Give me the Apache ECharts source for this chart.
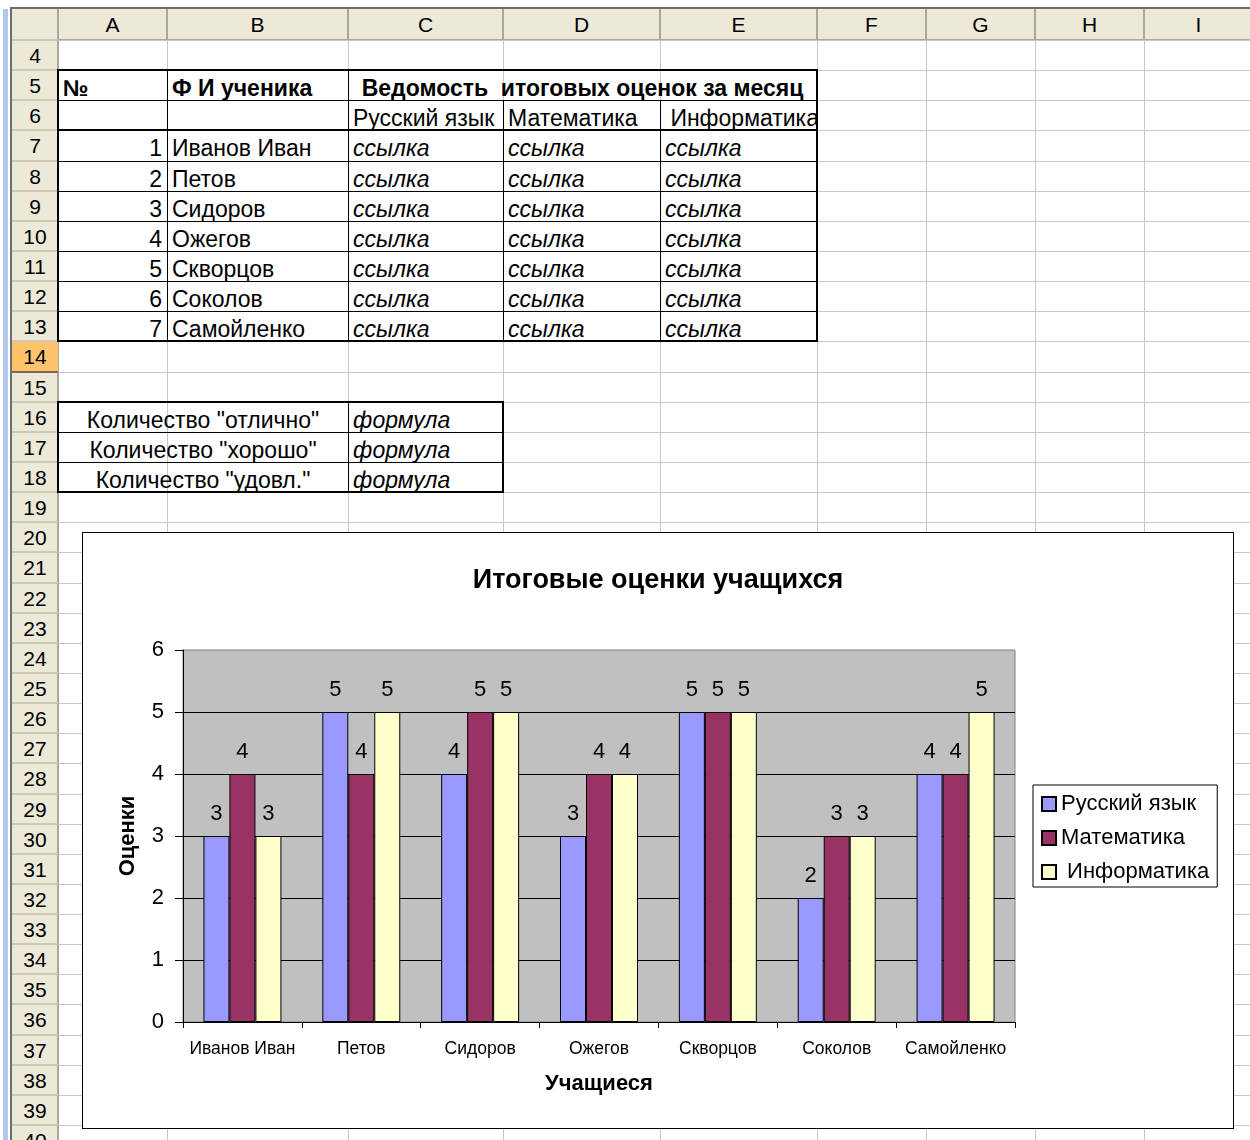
<!DOCTYPE html>
<html><head><meta charset="utf-8">
<script src="https://cdn.jsdelivr.net/npm/echarts@6/dist/echarts.min.js"></script>
<style>
html,body{margin:0;padding:0;background:#fff;}
#sheet{position:relative;width:1250px;height:1140px;overflow:hidden;font-family:'Liberation Sans',Arial,sans-serif;}
.a{position:absolute;}
.t{position:absolute;white-space:pre;font-size:23px;line-height:30px;color:#000;box-sizing:border-box;overflow:visible;}
.h{position:absolute;white-space:pre;font-size:21px;color:#000;text-align:center;box-sizing:border-box;}
#chart{position:absolute;left:82px;top:532px;width:1150px;height:595px;border:1px solid #000;background:#fff;}
</style></head><body><div id="sheet"><div id="chart"></div></div>
<script>
// ---- data ----
const categories = ['Иванов Иван','Петов','Сидоров','Ожегов','Скворцов','Соколов','Самойленко'];
const russian = [3,5,4,3,5,2,4];
const math = [4,4,5,4,5,3,4];
const informatics = [3,5,5,4,5,3,5];
const seriesNames = ['Русский язык','Математика',' Информатика'];
const yMin = 0, yMax = 6, yStep = 1;
const chartTitle = 'Итоговые оценки учащихся';
const xName = 'Учащиеся';
const yName = 'Оценки';
const colLetters = ['A','B','C','D','E','F','G','H','I'];
const tableTitle = 'Ведомость  итоговых оценок за месяц';
const headNo = '№';
const headName = 'Ф И ученика';
const linkText = 'ссылка';
const formulaText = 'формула';
const countLabels = ['Количество "отлично"','Количество "хорошо"','Количество "удовл."'];

// ---- spreadsheet ----
const sheet = document.getElementById('sheet');
const colX = [58,167,348,503,660,817,926,1035,1144,1253];
const rowY = n => Math.round(40 + (n-4)*30.14);
function box(x,y,w,h,bg){const d=document.createElement('div');d.className='a';d.style.cssText=`left:${x}px;top:${y}px;width:${w}px;height:${h}px;background:${bg};`;sheet.insertBefore(d, document.getElementById('chart'));return d;}
function text(cls,x,y,w,h,s,align,extra){const d=document.createElement('div');d.className=cls;d.textContent=s;d.style.cssText=`left:${x}px;top:${y}px;width:${w}px;height:${h}px;line-height:${h}px;text-align:${align};${extra||''}`;sheet.insertBefore(d, document.getElementById('chart'));return d;}
// gridlines
for(let i=0;i<colX.length;i++) box(colX[i],40,1,1100,'#c8c8c8');
for(let r=4;r<=41;r++) box(58,rowY(r),1200,1,'#c8c8c8');
// headers
box(12,9,1240,31,'#ece9d8');
box(12,9,46,1131,'#ece9d8');
box(10,7,1240,2,'#6e6e6e');
box(10,7,2,1133,'#6e6e6e');
box(3,9,5,1131,'#b3c7ee');
box(12,39,1240,1,'#aca899');
for(let i=0;i<colX.length;i++) box(colX[i]-1,9,2,31,'#aca899');
for(let i=0;i<colLetters.length;i++) text('h',colX[i],9,colX[i+1]-colX[i],31,colLetters[i],'center');
box(57,9,2,1131,'#aca899');
box(12,rowY(14),46,rowY(15)-rowY(14),'#ffc36e');
for(let r=4;r<=41;r++) box(12,rowY(r)-1,46,2,'#cdc9b8');
box(12,rowY(15)-1,46,2,'#7a6a4a');
for(let r=4;r<=40;r++) text('h',12,rowY(r)+1,46,30,String(r),'center');
// cells
function cell(c1,c2,r,s,align,extra){
  const x=colX[c1], w=colX[c2+1]-colX[c1];
  const pad = align==='right'?'padding-right:5px;':(align==='left'?'padding-left:5px;':'');
  text('t',x,rowY(r)+3,w,30,s,align,pad+(extra||''));
}
const B='font-weight:bold;', I='font-style:italic;';
cell(0,0,5,headNo,'left',B);
cell(1,1,5,headName,'left',B);
cell(2,4,5,tableTitle,'center',B);
cell(2,2,6,seriesNames[0],'left');
cell(3,3,6,seriesNames[1],'left');
cell(4,4,6,seriesNames[2],'left','padding-left:4px;overflow:hidden;');
for(let i=0;i<categories.length;i++){
  cell(0,0,7+i,String(i+1),'right');
  cell(1,1,7+i,categories[i],'left');
  for(let c=2;c<=4;c++) cell(c,c,7+i,linkText,'left',I);
}
for(let i=0;i<countLabels.length;i++){
  cell(0,1,16+i,countLabels[i],'center');
  cell(2,2,16+i,formulaText,'left',I);
}
// table borders
function hl(x1,x2,y,w){box(x1-(w>1?1:0),y-Math.floor(w/2),x2-x1+(w>1?2:1),w,'#000');}
function vl(x,y1,y2,w){box(x-Math.floor(w/2),y1,w,y2-y1+1,'#000');}
hl(58,817,rowY(6),1);
for(let r=8;r<=13;r++) hl(58,817,rowY(r),1);
vl(167,rowY(5),rowY(14),1); vl(348,rowY(5),rowY(14),1);
vl(503,rowY(6),rowY(14),1); vl(660,rowY(6),rowY(14),1);
hl(58,817,rowY(7),2);
hl(58,817,rowY(5),2); hl(58,817,rowY(14),2);
vl(58,rowY(5),rowY(14),2); vl(817,rowY(5),rowY(14),2);
hl(58,503,rowY(17),1); hl(58,503,rowY(18),1);
vl(348,rowY(16),rowY(19),1);
hl(58,503,rowY(16),2); hl(58,503,rowY(19),2);
vl(58,rowY(16),rowY(19),2); vl(503,rowY(16),rowY(19),2);

// ---- chart ----
const FONT = "'Liberation Sans', Arial, sans-serif";
const chart = echarts.init(document.getElementById('chart'), null, {renderer:'canvas'});
const colors = ['#9999ff','#993366','#ffffcc'];
const seriesData = [russian, math, informatics];
chart.setOption({
  animation:false,
  backgroundColor:'#ffffff',
  textStyle:{fontFamily:FONT,color:'#000'},
  title:{text:chartTitle,left:'center',top:34,padding:0,
    textStyle:{fontFamily:FONT,fontSize:27,fontWeight:'bold',color:'#000'}},
  legend:{orient:'vertical',left:950,top:252,padding:[8,8,4,8],itemWidth:14,itemHeight:14,itemGap:12,
    icon:'rect',borderColor:'#000',borderWidth:1,backgroundColor:'#fff',borderRadius:0,
    textStyle:{fontFamily:FONT,fontSize:22,color:'#000'},data:seriesNames},
  grid:{left:100,top:117,width:832,height:372,show:true,backgroundColor:'#c0c0c0',borderColor:'#808080',borderWidth:1,containLabel:false},
  xAxis:{type:'category',data:categories,
    name:xName,nameLocation:'middle',nameGap:51,
    nameTextStyle:{fontFamily:FONT,fontSize:22,fontWeight:'bold',color:'#000'},
    axisLine:{lineStyle:{color:'#000',width:1}},
    axisTick:{show:true,length:6,lineStyle:{color:'#000'}},
    axisLabel:{interval:0,margin:18,fontSize:17.5,color:'#000',fontFamily:FONT},
    splitLine:{show:false}},
  yAxis:{type:'value',min:yMin,max:yMax,interval:yStep,
    name:yName,nameLocation:'middle',nameGap:44,nameRotate:90,
    nameTextStyle:{fontFamily:FONT,fontSize:22,fontWeight:'bold',color:'#000'},
    axisLine:{show:true,lineStyle:{color:'#000',width:1}},
    axisTick:{show:true,length:8,lineStyle:{color:'#000'}},
    axisLabel:{margin:19,fontSize:22,color:'#000',fontFamily:FONT},
    splitLine:{show:true,showMaxLine:false,lineStyle:{color:'#000',width:1}}},
  series:seriesNames.map((n,i)=>({
    name:n,type:'bar',data:seriesData[i],barGap:'0%',barCategoryGap:'34.4%',
    itemStyle:{color:colors[i],borderColor:'#000',borderWidth:1},
    label:{show:true,position:'top',distance:11,fontSize:22,color:'#000',fontFamily:FONT}
  }))
});
</script></body></html>
